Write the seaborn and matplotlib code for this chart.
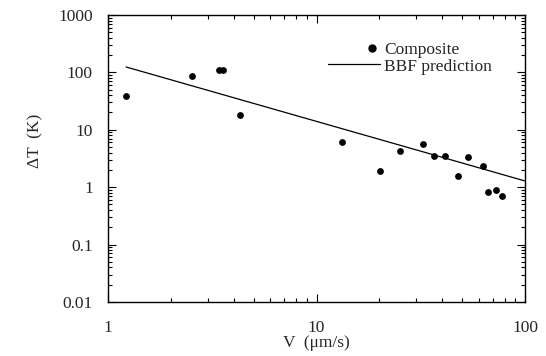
import numpy as np
import pandas as pd
import matplotlib
matplotlib.use("Agg")
import matplotlib.pyplot as plt
from matplotlib.lines import Line2D
from matplotlib.legend_handler import HandlerLine2DCompound
import seaborn as sns

# Data
velocity = [1.22, 2.54, 3.42, 3.57, 4.28, 13.3, 20.2, 25.1, 32.3, 36.6,
            41.5, 47.9, 53.5, 62.9, 66.5, 72.8, 77.3]
delta_t = [38, 85, 108, 108, 17.9, 6.2, 1.93, 4.2, 5.6, 3.5,
           3.5, 1.56, 3.3, 2.33, 0.81, 0.90, 0.69]
bbf_velocity = [1.22, 100]
bbf_delta_t = [124, 1.28]

y_ticks = [0.01, 0.1, 1, 10, 100, 1000]
y_ticklabels = ["0.01", "0.1", "1", "10", "100", "1000"]
x_ticks = [1, 10, 100]
x_ticklabels = ["1", "10", "100"]

composite = pd.DataFrame({"V": velocity, "dT": delta_t})
bbf = pd.DataFrame({"V": bbf_velocity, "dT": bbf_delta_t})


class RightMarkerHandler(HandlerLine2DCompound):
    # put the legend dot near the right end of the handle box, like the original
    def get_xdata(self, legend, xdescent, ydescent, width, height, fontsize):
        xdata = [-xdescent, -xdescent + width]
        return xdata, [-xdescent + width * 0.85]


sns.set_style("ticks")
plt.rcParams["font.family"] = ["Liberation Serif", "DejaVu Serif"]

fig = plt.figure(figsize=(5.46, 3.56), dpi=100)
ax = fig.add_axes([0.198, 0.152, 0.7635, 0.806])

sns.scatterplot(data=composite, x="V", y="dT", ax=ax, color="black",
                s=24, edgecolor="black", linewidth=0, legend=False)
sns.lineplot(data=bbf, x="V", y="dT", ax=ax, color="black", linewidth=0.9,
             legend=False)

ax.set_xscale("log")
ax.set_yscale("log")
ax.set_xlim(1, 100)
ax.set_ylim(0.01, 1000)
ax.set_xticks(x_ticks)
ax.set_xticklabels(x_ticklabels)
ax.set_yticks(y_ticks)
ax.set_yticklabels(y_ticklabels)
ax.tick_params(which="both", direction="in", top=True, right=True,
               labelsize=12.5, color="black", width=0.8)
ax.tick_params(which="major", length=6)
ax.tick_params(which="minor", length=3)
ax.tick_params(axis="x", pad=13)
ax.tick_params(axis="y", pad=11)
for sp in ax.spines.values():
    sp.set_linewidth(1.0)
    sp.set_color("black")

ax.set_xlabel("V  (μm/s)", fontsize=12.5)
ax.xaxis.set_label_coords(0.5, -0.115)
ax.set_ylabel("ΔT  (K)", fontsize=12.5)
ax.yaxis.set_label_coords(-0.155, 0.56)

# legend: dot has no line, so only the marker part is drawn
dot = Line2D([], [], color="black", marker="o", markersize=5, linestyle="none")
line = Line2D([], [], color="black", linewidth=0.9)
ax.legend([dot, line], ["Composite", "BBF prediction"],
          handler_map={dot: RightMarkerHandler()},
          loc="upper left", bbox_to_anchor=(0.528, 0.905), frameon=False,
          fontsize=12.5, handlelength=3.0, handletextpad=0.2,
          labelspacing=0.0, borderpad=0, borderaxespad=0)

fig.savefig("out.png", dpi=100)
